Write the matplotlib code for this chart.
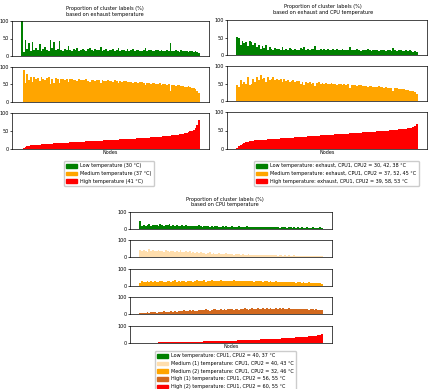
import numpy as np
import matplotlib
matplotlib.use("Agg")
import matplotlib.pyplot as plt
from matplotlib.patches import Patch

W, H = 428, 389

# --- exhaust temperature clustering (sorted by share of "high") ---
low_ex = [100, 12, 45, 20, 38, 15, 40, 18, 22, 16,
          35, 14, 20, 25, 18, 15, 45, 22, 40, 17,
          20, 42, 18, 15, 20, 16, 30, 18, 14, 20,
          17, 22, 15, 18, 20, 16, 14, 19, 22, 17,
          15, 20, 18, 16, 25, 14, 17, 19, 15, 18,
          16, 20, 14, 17, 22, 15, 18, 16, 14, 19,
          15, 17, 20, 14, 16, 18, 15, 13, 17, 22,
          14, 16, 18, 15, 13, 17, 16, 14, 18, 15,
          13, 16, 14, 38, 15, 13, 17, 14, 12, 16,
          14, 13, 15, 12, 14, 13, 11, 13, 12, 10]
mid_ex = [0, 90, 55, 80, 62, 70, 58, 72, 65, 68,
          60, 70, 66, 64, 68, 70, 52, 66, 55, 68,
          65, 54, 66, 67, 64, 66, 58, 65, 67, 63,
          64, 60, 66, 63, 62, 64, 65, 61, 58, 62,
          64, 60, 62, 63, 55, 64, 61, 60, 62, 60,
          61, 58, 62, 60, 55, 61, 58, 59, 60, 57,
          58, 56, 54, 58, 56, 54, 56, 57, 53, 48,
          55, 53, 51, 54, 55, 51, 52, 53, 49, 51,
          52, 49, 50, 32, 48, 49, 46, 48, 49, 45,
          46, 44, 44, 45, 42, 40, 40, 36, 32, 26]
high_ex = [0, 3, 6, 8, 9, 10, 10.5, 11, 11.5, 12,
           12.5, 13, 13.3, 13.7, 14, 14.4, 14.8, 15.2, 15.5, 15.8,
           16.1, 16.4, 16.7, 17, 17.3, 17.6, 17.9, 18.2, 18.5, 18.8,
           19.1, 19.4, 19.7, 20, 20.3, 20.6, 20.9, 21.2, 21.5, 21.8,
           22.1, 22.4, 22.7, 23, 23.3, 23.6, 23.9, 24.2, 24.5, 24.8,
           25.1, 25.4, 25.7, 26, 26.3, 26.6, 26.9, 27.2, 27.5, 27.8,
           28.1, 28.4, 28.7, 29, 29.3, 29.6, 30, 30.3, 30.7, 31,
           31.4, 31.8, 32.2, 32.6, 33, 33.4, 33.8, 34.2, 34.7, 35.2,
           35.7, 36.2, 36.8, 37.4, 38, 38.7, 39.4, 40.2, 41, 42,
           43, 44.2, 45.5, 47, 49, 51, 54, 58, 66, 80]

# --- exhaust + CPU temperature clustering ---
low_ec = [52, 48, 30, 40, 35, 38, 25, 40, 38, 30,
          35, 22, 28, 18, 25, 20, 30, 15, 22, 18,
          14, 20, 16, 18, 15, 22, 14, 17, 15, 20,
          16, 13, 18, 15, 14, 20, 16, 22, 15, 17,
          14, 18, 16, 25, 15, 13, 17, 15, 16, 14,
          18, 15, 13, 16, 14, 17, 15, 13, 16, 14,
          15, 13, 24, 14, 15, 13, 16, 14, 12, 15,
          13, 14, 16, 13, 12, 14, 15, 13, 12, 14,
          13, 15, 12, 13, 14, 12, 20, 13, 12, 14,
          13, 11, 12, 13, 11, 14, 12, 10, 11, 10]
mid_ec = [45, 40, 60, 48, 55, 50, 70, 45, 50, 62,
          55, 70, 60, 75, 62, 65, 55, 68, 60, 64,
          68, 60, 63, 60, 62, 55, 62, 58, 60, 55,
          58, 60, 54, 56, 57, 50, 54, 47, 55, 52,
          55, 50, 52, 43, 52, 54, 50, 52, 50, 52,
          48, 50, 52, 48, 50, 47, 48, 50, 46, 48,
          47, 48, 38, 47, 45, 47, 43, 45, 47, 43,
          44, 43, 41, 43, 44, 41, 40, 41, 42, 40,
          40, 38, 40, 38, 37, 38, 30, 36, 36, 33,
          34, 35, 33, 31, 32, 28, 29, 30, 27, 20]
high_ec = [3, 8, 11, 14, 16, 18, 19.5, 20.5, 21.5, 22.3,
           23, 23.4, 23.8, 24.2, 24.6, 25, 25.4, 25.8, 26.2, 26.5,
           26.8, 27.1, 27.4, 28, 28.4, 28.8, 29.2, 29.5, 29.9, 30.3,
           30.7, 31, 31.4, 31.8, 32.2, 32.5, 32.9, 33.3, 33.6, 34,
           34.4, 34.8, 35.1, 35.5, 35.9, 36.3, 36.6, 37, 37.3, 37.6,
           38, 38.3, 38.7, 39, 39.4, 39.7, 40.1, 40.4, 40.8, 41.1,
           41.5, 41.8, 42.2, 42.5, 42.9, 43.2, 43.6, 43.9, 44.3, 44.6,
           45, 45.3, 45.7, 46, 46.4, 46.7, 47, 47.4, 47.7, 48,
           48.5, 49, 49.5, 50, 50.5, 51, 51.5, 52, 52.5, 53,
           53.5, 54, 54.5, 55, 55.5, 56, 57.5, 59, 62, 67]

# --- CPU temperature clustering (5 clusters) ---
low_cpu = [45, 18, 25, 20, 22, 28, 19, 24, 21, 26,
           20, 30, 22, 18, 24, 21, 27, 19, 22, 18,
           25, 20, 17, 22, 19, 24, 18, 16, 20, 18,
           15, 19, 22, 16, 14, 18, 15, 17, 14, 16,
           13, 15, 17, 14, 12, 15, 13, 16, 14, 12,
           15, 13, 11, 14, 16, 12, 13, 11, 15, 12,
           14, 11, 13, 12, 10, 13, 11, 12, 14, 10,
           9, 11, 10, 12, 9, 10, 8, 11, 9, 10,
           8, 9, 11, 8, 9, 7, 10, 8, 9, 7,
           8, 10, 7, 8, 9, 6, 8, 7, 9, 6]
mid1_cpu = [40, 35, 42, 38, 30, 45, 36, 40, 33, 38,
            42, 35, 37, 32, 40, 36, 30, 38, 34, 28,
            36, 32, 40, 30, 27, 34, 29, 38, 26, 30,
            25, 28, 24, 30, 22, 26, 20, 24, 28, 19,
            22, 18, 20, 24, 17, 19, 16, 21, 15, 18,
            16, 14, 19, 15, 17, 13, 16, 14, 12, 15,
            13, 11, 14, 12, 13, 10, 12, 11, 13, 9,
            11, 10, 12, 9, 10, 8, 11, 9, 8, 10,
            8, 9, 7, 8, 9, 7, 8, 6, 8, 7,
            6, 7, 8, 6, 7, 5, 6, 7, 5, 6]
mid2_cpu = [20, 28, 22, 26, 30, 24, 27, 21, 29, 25,
            23, 27, 31, 25, 22, 28, 30, 24, 27, 33,
            26, 29, 23, 31, 28, 25, 32, 27, 30, 26,
            29, 35, 27, 31, 28, 33, 26, 30, 29, 34,
            28, 31, 27, 30, 33, 29, 32, 28, 31, 30,
            27, 33, 29, 31, 28, 32, 30, 27, 29, 31,
            28, 30, 26, 29, 27, 31, 28, 26, 29, 27,
            25, 28, 26, 24, 27, 25, 23, 26, 24, 22,
            25, 23, 21, 24, 22, 20, 23, 21, 19, 22,
            20, 18, 21, 19, 17, 20, 16, 18, 15, 12]
high1_cpu = [3, 6, 4, 8, 10, 7, 12, 9, 11, 8,
             10, 13, 9, 15, 12, 10, 14, 16, 12, 18,
             13, 17, 20, 15, 22, 18, 16, 21, 19, 24,
             20, 18, 23, 21, 26, 22, 28, 24, 20, 25,
             27, 29, 25, 23, 30, 26, 28, 24, 30, 27,
             29, 25, 31, 27, 24, 30, 28, 33, 29, 26,
             31, 35, 28, 30, 33, 29, 32, 36, 30, 34,
             31, 33, 29, 32, 35, 30, 33, 31, 34, 32,
             30, 33, 31, 29, 32, 30, 28, 31, 29, 27,
             30, 28, 26, 29, 27, 25, 28, 26, 24, 25]
high2_cpu = [0, 0.3, 0.6, 0.9, 1.2, 1.5, 1.8, 2.1, 2.4, 2.7,
             3, 3.3, 3.5, 3.8, 4, 4.3, 4.5, 4.8, 5, 5.2,
             5.5, 5.7, 6, 6.2, 6.4, 6.7, 6.9, 7.1, 7.4, 7.6,
             7.8, 8.1, 8.3, 8.6, 8.8, 9.1, 9.3, 9.6, 9.8, 10.1,
             10.4, 10.7, 11, 11.3, 11.6, 11.9, 12.2, 12.5, 12.9, 13.2,
             13.6, 14, 14.4, 14.8, 15.2, 15.6, 16, 16.4, 16.9, 17.3,
             17.8, 18.2, 18.7, 19.2, 19.7, 20.2, 20.7, 21.2, 21.7, 22.2,
             22.8, 23.3, 23.9, 24.5, 25.1, 25.7, 26.3, 26.9, 27.5, 28.2,
             28.9, 29.6, 30.3, 31, 31.8, 32.6, 33.4, 34.2, 35, 35.9,
             36.8, 37.7, 38.6, 39.6, 40.6, 41.7, 42.9, 44.5, 47, 53]

labels_ex = ["Low temperature (30 °C)", "Medium temperature (37 °C)",
             "High temperature (41 °C)"]
labels_ec = ["Low temperature: exhaust, CPU1, CPU2 = 30, 42, 38 °C",
             "Medium temperature: exhaust, CPU1, CPU2 = 37, 52, 45 °C",
             "High temperature: exhaust, CPU1, CPU2 = 39, 58, 53 °C"]
labels_cpu = ["Low temperature: CPU1, CPU2 = 40, 37 °C",
              "Medium (1) temperature: CPU1, CPU2 = 40, 43 °C",
              "Medium (2) temperature: CPU1, CPU2 = 32, 46 °C",
              "High (1) temperature: CPU1, CPU2 = 56, 55 °C",
              "High (2) temperature: CPU1, CPU2 = 60, 55 °C"]

COL3 = ["green", "orange", "red"]
COL5 = ["green", "navajowhite", "orange", "chocolate", "red"]
FS = 3.5     # ticks / legend / xlabel
FS_T = 3.6   # titles


def box(x0, y0, x1, y1):
    # pixel box (top-left origin) -> figure fraction rect
    return [x0 / W, 1 - y1 / H, (x1 - x0) / W, (y1 - y0) / H]


def panel(fig, rect, vals, color, yticks):
    ax = fig.add_axes(rect)
    ax.bar(np.arange(len(vals)), vals, width=1.0, color=color, linewidth=0)
    ax.set_ylim(0, 100)
    ax.set_yticks(yticks)
    ax.set_xticks([])
    ax.tick_params(axis="y", labelsize=FS, length=1.5, width=0.5, pad=0.8)
    for s in ax.spines.values():
        s.set_linewidth(0.5)
    return ax


def group(fig, series, colors, xs, ys, yticks, title, tx, ty, labels, lx, ly):
    ax = None
    for vals, c, (y0, y1) in zip(series, colors, ys):
        ax = panel(fig, box(xs[0], y0, xs[1], y1), vals, c, yticks)
    ax.set_xlabel("Nodes", fontsize=FS, labelpad=1)
    fig.text(tx / W, 1 - ty / H, title, ha="center", va="center",
             fontsize=FS_T, linespacing=1.2)
    handles = [Patch(color=c) for c in colors]
    fig.legend(handles, labels, loc="upper left",
               bbox_to_anchor=(lx / W, 1 - ly / H), fontsize=FS,
               frameon=True, borderaxespad=0, handlelength=2.2,
               handletextpad=0.6, handleheight=0.8, labelspacing=0.55,
               borderpad=0.5, fancybox=True, framealpha=1, edgecolor="#cccccc")


fig = plt.figure(figsize=(W / 100, H / 100), dpi=100)

group(fig, [low_ex, mid_ex, high_ex], COL3, (12, 209),
      [(21, 56), (67, 102), (113, 149)], [0, 50, 100],
      "Proportion of cluster labels (%)\nbased on exhaust temperature",
      105, 11.5, labels_ex, 64, 161)

group(fig, [low_ec, mid_ec, high_ec], COL3, (227, 427),
      [(20, 55), (66, 101), (112, 149)], [0, 50, 100],
      "Proportion of cluster labels (%)\nbased on exhaust and CPU temperature",
      323, 9.3, labels_ec, 254, 161)

group(fig, [low_cpu, mid1_cpu, mid2_cpu, high1_cpu, high2_cpu], COL5, (130, 332),
      [(212, 229), (240, 257), (269, 286), (297, 314), (326, 343)], [0, 100],
      "Proportion of cluster labels (%)\nbased on CPU temperature",
      225, 202, labels_cpu, 155, 351)

fig.savefig("out.png", dpi=100)
